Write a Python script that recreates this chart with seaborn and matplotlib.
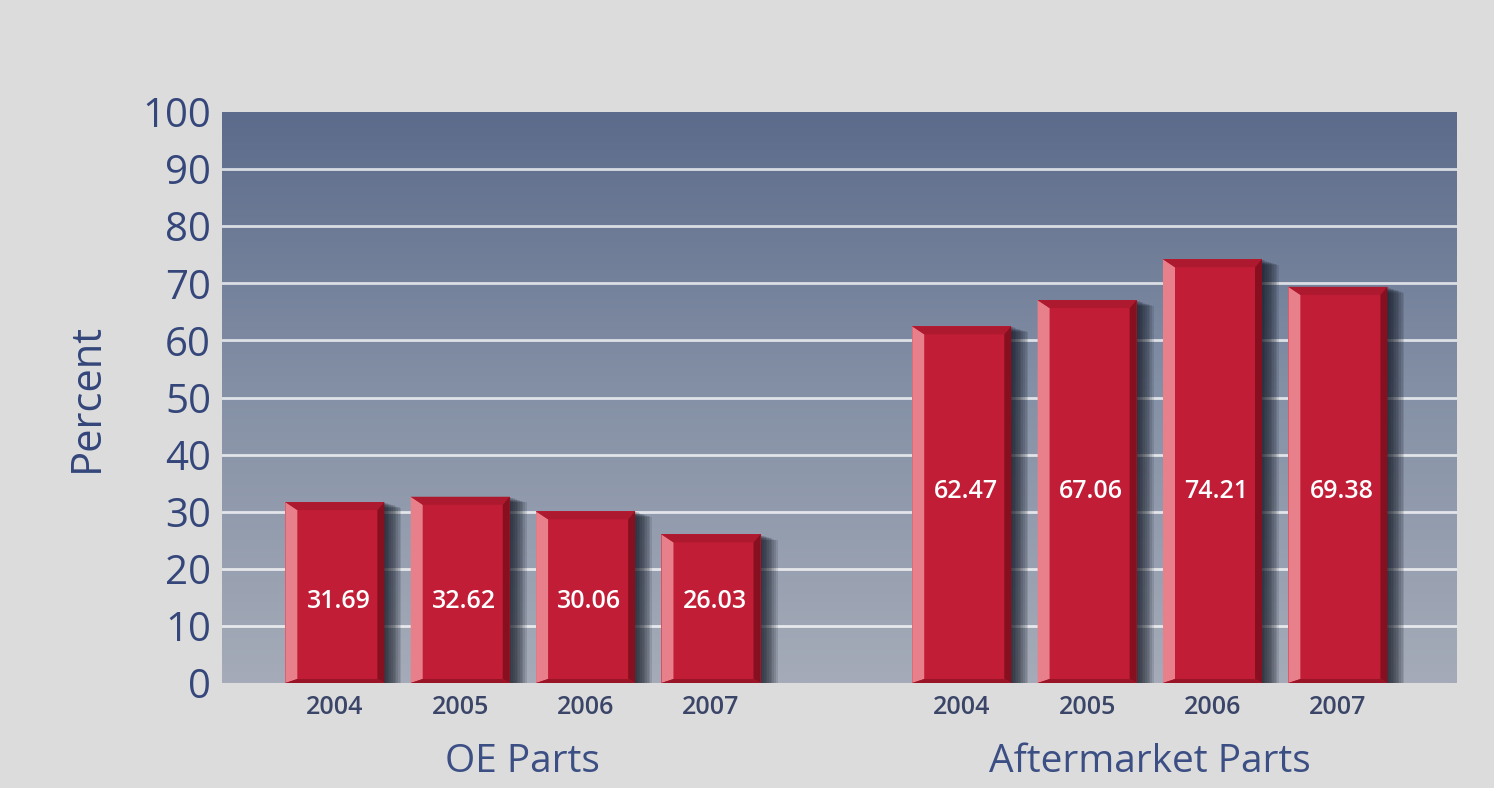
import numpy as np
import pandas as pd
import matplotlib
matplotlib.use("Agg")
import matplotlib.pyplot as plt
from matplotlib.patches import Polygon, Rectangle
from matplotlib.colors import LinearSegmentedColormap
import seaborn as sns

# ---- data ----
groups = ["OE Parts", "Aftermarket Parts"]
years = ["2004", "2005", "2006", "2007"]
oe_values = [31.69, 32.62, 30.06, 26.03]
am_values = [62.47, 67.06, 74.21, 69.38]
y_ticks = [0, 10, 20, 30, 40, 50, 60, 70, 80, 90, 100]

slots = [f"OE {y}" for y in years] + ["gap"] + [f"AM {y}" for y in years]
df = pd.DataFrame({
    "slot": [f"OE {y}" for y in years] + [f"AM {y}" for y in years],
    "value": oe_values + am_values,
    "group": [groups[0]] * 4 + [groups[1]] * 4,
})

sns.set_theme(style="white")
plt.rcParams['font.family'] = ['Open Sans', 'DejaVu Sans']

BG = "#dcdcdc"
RED = "#c21d36"
PINK = "#e8808b"
DARK = "#86101f"
TOPC = "#ad1a2f"
TXT = "#34467a"

fig = plt.figure(figsize=(14.94, 7.88), dpi=100, facecolor=BG)
ax = fig.add_axes([222 / 1494, 1 - 683 / 788, (1457 - 222) / 1494, (683 - 112) / 788])

sns.barplot(data=df, x="slot", y="value", order=slots, color=RED, saturation=1,
            width=0.79, ax=ax, zorder=4, edgecolor="none", linewidth=0)

xl = (-0.90, 8.95)
ax.set_xlim(*xl)
ax.set_ylim(0, 100)

# gradient background
cmap = LinearSegmentedColormap.from_list("bg", ["#a5abb8", "#8591a6", "#5c6b8b"])
grad = np.linspace(0, 1, 256).reshape(-1, 1)
ax.imshow(grad, extent=[xl[0], xl[1], 0, 100], origin="lower", aspect="auto",
          cmap=cmap, zorder=0)

# grid lines
for t in y_ticks[1:-1]:
    ax.axhline(t, color="white", lw=2, alpha=0.75, zorder=1)

for s in ax.spines.values():
    s.set_visible(False)

px = 1 / 125.4          # one pixel in x data units
py = 100 / 571          # one pixel in y data units

for p in ax.patches:
    if not isinstance(p, Rectangle) or p.get_height() <= 0 or p.get_width() > 2:
        continue
    x, w, h = p.get_x(), p.get_width(), p.get_height()
    # soft shadow to the right
    for k in range(1, 11):
        ax.add_patch(Rectangle((x + w * 0.5, 0), w * 0.5 + k * 1.7 * px, h - k * 0.1,
                               facecolor="#141925", alpha=0.13, lw=0, zorder=2))
    pw, rw, th, bh = 12 * px, 7 * px, 8 * py, 4 * py
    ax.add_patch(Polygon([(x, 0), (x + pw, bh), (x + pw, h - th), (x, h)],
                         closed=True, facecolor=PINK, lw=0, zorder=5))
    ax.add_patch(Polygon([(x, h), (x + w, h), (x + w - rw, h - th), (x + pw, h - th)],
                         closed=True, facecolor=TOPC, lw=0, zorder=5))
    ax.add_patch(Polygon([(x + w, h), (x + w - rw, h - th), (x + w - rw, bh), (x + w, 0)],
                         closed=True, facecolor=DARK, lw=0, zorder=5))
    ax.add_patch(Polygon([(x, 0), (x + w, 0), (x + w - rw, bh), (x + pw, bh)],
                         closed=True, facecolor="#9a1428", lw=0, zorder=5))

# value labels
label_y = {groups[0]: 14.3, groups[1]: 33.5}
for _, r in df.iterrows():
    xi = slots.index(r["slot"])
    ax.text(xi + 0.03, label_y[r["group"]], f"{r['value']:.2f}", ha="center", va="center",
            color="white", fontsize=18, fontweight="semibold", zorder=6)

# axes ticks / labels
ax.set_yticks(y_ticks)
ax.set_yticklabels([str(t) for t in y_ticks], fontsize=29, color=TXT)
ax.tick_params(axis="y", length=0, pad=8)
ax.set_xticks(range(len(slots)))
ax.set_xticklabels([s.split()[-1] if s != "gap" else "" for s in slots],
                   fontsize=18, color="#3a4568", fontweight="semibold")
ax.tick_params(axis="x", length=0, pad=9)
ax.set_xlabel("")
ax.set_ylabel("Percent", fontsize=30, color=TXT, labelpad=25)

for gi, g in enumerate(groups):
    cx = 1.5 + gi * 5
    ax.text(cx, -13.8, g, ha="center", va="center", fontsize=28, color="#3c4f84",
            transform=ax.transData, clip_on=False)

fig.savefig("out.png", dpi=100, facecolor=BG)
